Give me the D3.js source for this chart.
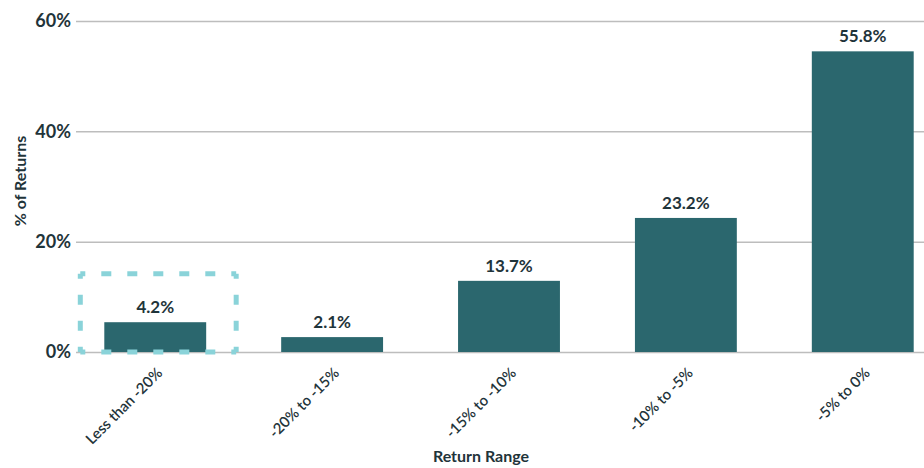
<!DOCTYPE html>
<html>
<head>
<meta charset="utf-8">
<script src="https://cdn.jsdelivr.net/npm/d3@7"></script>
<style>
  body { margin: 0; background: #fff; }
  text { font-family: Lato, "Open Sans", sans-serif; fill: #1f343a; }
</style>
</head>
<body>
<script>
// data
const ranges = ["Less than -20%", "-20% to -15%", "-15% to -10%", "-10% to -5%", "-5% to 0%"];
const barHeights = [5.4, 2.7, 12.9, 24.3, 54.5];   // bar heights as drawn
const barLabels = ["4.2%", "2.1%", "13.7%", "23.2%", "55.8%"];
const yTicks = [0, 20, 40, 60];
const highlighted = "Less than -20%";

const W = 924, H = 468;

const svg = d3.select("body")
  .append("svg")
    .attr("width", W)
    .attr("height", H);

// scales
const x = d3.scaleBand()
  .domain(ranges)
  .range([76, 942])
  .paddingInner(0.424)
  .paddingOuter(0.16);

const y = d3.scaleLinear()
  .domain([0, 60])
  .range([352, 21]);

// gridlines + y labels
const yAxis = d3.axisLeft(y)
  .tickValues(yTicks)
  .tickSize(-(W - 76))
  .tickPadding(6)
  .tickFormat(d => d + "%");

svg.append("g")
    .attr("transform", "translate(76,0)")
    .call(yAxis)
    .call(g => g.select(".domain").remove())
    .call(g => g.selectAll(".tick line").attr("stroke", "#bdbdbd").attr("stroke-width", 1.5))
    .call(g => g.selectAll(".tick text")
        .attr("x", -5)
        .style("font-size", "18px")
        .style("font-weight", 700)
        .style("fill", "#1f343a"));

// bars
svg.append("g")
  .selectAll("rect")
  .data(ranges)
  .enter()
  .append("rect")
    .attr("x", d => x(d))
    .attr("y", (d, i) => y(barHeights[i]))
    .attr("width", x.bandwidth())
    .attr("height", (d, i) => y(0) - y(barHeights[i]))
    .attr("fill", "#2b676e");

// value labels
svg.append("g")
  .selectAll("text")
  .data(ranges)
  .enter()
  .append("text")
    .attr("x", d => x(d) + x.bandwidth() / 2)
    .attr("y", (d, i) => y(barHeights[i]) - 9)
    .attr("text-anchor", "middle")
    .style("font-size", "17px")
    .style("font-weight", 700)
    .text((d, i) => barLabels[i]);

// dashed highlight box around first bar, drawn edge by edge so every corner gets a dash
const bx0 = x(highlighted) - 24, bx1 = x(highlighted) + x.bandwidth() + 30;
const by0 = y(14) - 1, by1 = y(0);
const edges = [
  [bx0, by0, bx1, by0],
  [bx1, by0, bx1, by1],
  [bx0, by1, bx1, by1],
  [bx0, by0, bx0, by1]
];
svg.append("g")
  .selectAll("line")
  .data(edges)
  .enter()
  .append("line")
    .attr("x1", d => d[0])
    .attr("y1", d => d[1])
    .attr("x2", d => d[2])
    .attr("y2", d => d[3])
    .attr("stroke", "#8ad3d9")
    .attr("stroke-width", 5)
    .attr("stroke-dasharray", "10,16")
    .attr("stroke-dashoffset", 5);

// x labels, rotated
svg.append("g")
  .selectAll("text")
  .data(ranges)
  .enter()
  .append("text")
    .attr("transform", d => "translate(" + (x(d) + x.bandwidth() / 2 + 8) + ",374) rotate(-45)")
    .attr("text-anchor", "end")
    .style("font-size", "15px")
    .style("font-weight", 600)
    .text(d => d);

// axis titles
svg.append("text")
    .attr("x", 481)
    .attr("y", 462)
    .attr("text-anchor", "middle")
    .style("font-size", "16px")
    .style("font-weight", 700)
    .text("Return Range");

svg.append("text")
    .attr("transform", "translate(26,181) rotate(-90)")
    .attr("text-anchor", "middle")
    .style("font-size", "16px")
    .style("font-weight", 700)
    .text("% of Returns");
</script>
</body>
</html>
